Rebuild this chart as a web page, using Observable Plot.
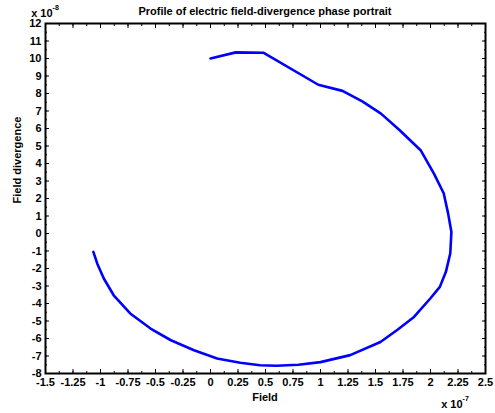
<!DOCTYPE html>
<html><head><meta charset="utf-8">
<script src="https://cdn.jsdelivr.net/npm/d3@7"></script>
<script src="https://cdn.jsdelivr.net/npm/@observablehq/plot@0.6"></script>
<style>body{margin:0;background:#fff}</style>
</head><body><div id="chart"></div>
<script>
const fieldX = [0, 0.23, 0.48, 0.98, 1.2, 1.38, 1.55, 1.72, 1.91, 2.03, 2.12, 2.16, 2.19, 2.18, 2.14, 2.085, 2.0, 1.85, 1.70, 1.545, 1.27, 1.0, 0.8, 0.6, 0.45, 0.27, 0.06, -0.15, -0.36, -0.545, -0.73, -0.88, -0.97, -1.03, -1.065];
const divergenceY = [10.0, 10.35, 10.33, 8.5, 8.15, 7.55, 6.85, 5.9, 4.76, 3.44, 2.3, 1.15, 0.09, -1.13, -2.19, -3.05, -3.7, -4.77, -5.5, -6.2, -6.95, -7.35, -7.5, -7.56, -7.53, -7.39, -7.14, -6.67, -6.1, -5.43, -4.57, -3.53, -2.57, -1.71, -1.05];
const xTicks = d3.range(-1.5, 2.5001, 0.25).map(v => +v.toFixed(2));
const xMinor = d3.range(-1.5, 2.5001, 0.125).map(v => +v.toFixed(3));
const yTicks = d3.range(-8, 12.001, 1);
const yMinor = d3.range(-8, 12.001, 0.5);
const title = "Profile of electric field-divergence phase portrait";
const xLabel = "Field";
const yLabel = "Field divergence";

const data = fieldX.map((x, i) => ({x, y: divergenceY[i]}));
const fmt = d => String(d);
const none = () => "";
const W = 495, H = 413, ML = 45, MR = 10, MT = 23, MB = 40;

const chart = Plot.plot({
  width: W, height: H,
  marginLeft: ML, marginRight: MR, marginTop: MT, marginBottom: MB,
  style: {fontFamily: "'Liberation Sans', Arial, sans-serif", fontWeight: "bold", fontSize: "11px", color: "#000", background: "#fff"},
  x: {domain: [-1.5, 2.5]},
  y: {domain: [-8, 12]},
  marks: [
    Plot.axisX(xMinor, {anchor: "bottom", tickSize: -2, tickFormat: none, label: null, strokeWidth: 1}),
    Plot.axisX(xMinor, {anchor: "top", tickSize: -2, tickFormat: none, label: null, strokeWidth: 1}),
    Plot.axisX(xTicks, {anchor: "bottom", tickSize: -4, tickPadding: 9, tickFormat: fmt, label: null, strokeWidth: 1}),
    Plot.axisX(xTicks, {anchor: "top", tickSize: -4, tickFormat: none, label: null, strokeWidth: 1}),
    Plot.axisY(yMinor, {anchor: "left", tickSize: -2, tickFormat: none, label: null, strokeWidth: 1}),
    Plot.axisY(yMinor, {anchor: "right", tickSize: -2, tickFormat: none, label: null, strokeWidth: 1}),
    Plot.axisY(yTicks, {anchor: "left", tickSize: -4, tickPadding: 8, tickFormat: fmt, label: null, strokeWidth: 1}),
    Plot.axisY(yTicks, {anchor: "right", tickSize: -4, tickFormat: none, label: null, strokeWidth: 1}),
    Plot.frame({stroke: "#000", strokeWidth: 2}),
    Plot.line(data, {x: "x", y: "y", stroke: "#0000ff", strokeWidth: 2.6, curve: "linear"})
  ]
});
document.getElementById("chart").appendChild(chart);

const svg = d3.select(chart);
const g = svg.append("g").attr("font-family", "'Liberation Sans', Arial, sans-serif").attr("font-weight", "bold").attr("fill", "#000");
const cx = ML + (W - ML - MR) / 2;
g.append("text").attr("x", cx).attr("y", 15).attr("text-anchor", "middle").attr("font-size", 11).text(title);
g.append("text").attr("x", cx).attr("y", 401).attr("text-anchor", "middle").attr("font-size", 11).text(xLabel);
g.append("text").attr("transform", `translate(21,${MT + (H - MT - MB) / 2 - 38}) rotate(-90)`).attr("text-anchor", "middle").attr("font-size", 11).text(yLabel);
const t1 = g.append("text").attr("x", 45).attr("y", 17).attr("font-size", 11);
t1.append("tspan").text("x 10");
t1.append("tspan").attr("dy", -7).attr("font-size", 7).text("-8");
const t2 = g.append("text").attr("x", 455).attr("y", 408).attr("font-size", 11);
t2.append("tspan").text("x 10");
t2.append("tspan").attr("dy", -7).attr("font-size", 7).text("-7");
</script>
</body></html>
